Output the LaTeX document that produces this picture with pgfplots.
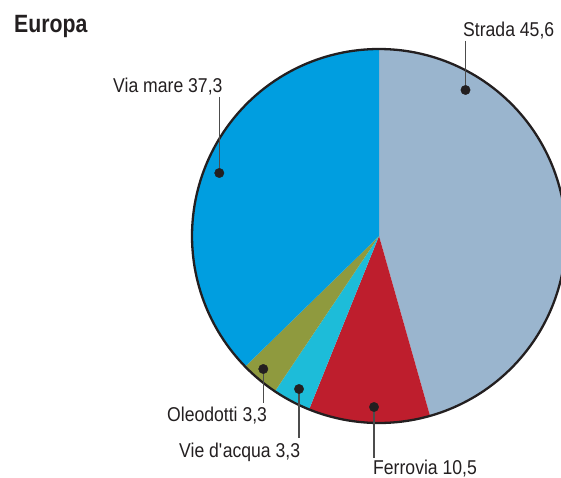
\documentclass[border=0pt]{standalone}
\usepackage{pgfplots}
\pgfplotsset{compat=1.18}
\usepackage{fontspec}
\setmainfont{Liberation Sans}[FakeStretch=0.88]
\newfontfamily\titlefont{Liberation Sans}[FakeStretch=0.85]
\definecolor{cStrada}{HTML}{9AB5CE}
\definecolor{cFerrovia}{HTML}{BE1E2D}
\definecolor{cVie}{HTML}{1DBCD9}
\definecolor{cOleo}{HTML}{8F9A3E}
\definecolor{cMare}{HTML}{009EE0}
\definecolor{cLine}{HTML}{231F20}
% shares (percent)
\def\vStrada{45.6}
\def\vFerrovia{10.5}
\def\vVie{3.3}
\def\vOleo{3.3}
\def\vMare{37.3}
\pgfmathsetmacro\aA{90}
\pgfmathsetmacro\aB{\aA-3.6*\vStrada}
\pgfmathsetmacro\aC{\aB-3.6*\vFerrovia}
\pgfmathsetmacro\aD{\aC-3.6*\vVie}
\pgfmathsetmacro\aE{\aD-3.6*\vOleo}
\pgfmathsetmacro\aF{\aE-3.6*\vMare}
\def\cx{379}
\def\cy{236}
\def\R{187}
\begin{document}
\begin{tikzpicture}[x=1pt,y=1pt]
\useasboundingbox (0,0) rectangle (561,478);
\begin{axis}[
  at={(0,0)}, anchor=south west,
  width=561pt, height=478pt, scale only axis,
  xmin=0, xmax=561, ymin=0, ymax=478, y dir=reverse,
  hide axis, clip=true,
]
\addplot[fill=cStrada, draw=none, domain=\aB:\aA, samples=120]
  ({\cx+\R*cos(x)},{\cy-\R*sin(x)}) -- (axis cs:\cx,\cy) -- cycle;
\addplot[fill=cFerrovia, draw=none, domain=\aC:\aB, samples=40]
  ({\cx+\R*cos(x)},{\cy-\R*sin(x)}) -- (axis cs:\cx,\cy) -- cycle;
\addplot[fill=cVie, draw=none, domain=\aD:\aC, samples=20]
  ({\cx+\R*cos(x)},{\cy-\R*sin(x)}) -- (axis cs:\cx,\cy) -- cycle;
\addplot[fill=cOleo, draw=none, domain=\aE:\aD, samples=20]
  ({\cx+\R*cos(x)},{\cy-\R*sin(x)}) -- (axis cs:\cx,\cy) -- cycle;
\addplot[fill=cMare, draw=none, domain=\aF:\aE, samples=100]
  ({\cx+\R*cos(x)},{\cy-\R*sin(x)}) -- (axis cs:\cx,\cy) -- cycle;
\addplot[draw=cLine, line width=2.3pt, domain=0:360, samples=240]
  ({\cx+\R*cos(x)},{\cy-\R*sin(x)});
% leader lines
\addplot[draw=black!70, line width=1.3pt] coordinates {(465.5,41) (465.5,90)};
\addplot[draw=black!70, line width=1.3pt] coordinates {(219.3,97) (219.3,173)};
\addplot[draw=black!70, line width=1.3pt] coordinates {(263.3,369) (263.3,403)};
\addplot[draw=black!70, line width=1.3pt] coordinates {(299,389) (299,438)};
\addplot[draw=black!70, line width=1.3pt] coordinates {(374,407) (374,458)};
\addplot[only marks, mark=*, mark size=4.7pt, mark options={fill=cLine, draw=cLine}]
  coordinates {(465.5,90) (219.3,173) (263.3,369) (299,389) (374,407)};
\end{axis}
\node[anchor=base west, inner sep=0pt, font=\titlefont\bfseries\fontsize{25}{30}\selectfont, text=cLine] at (14,478-33) {Europa};
\node[anchor=base west, inner sep=0pt, font=\fontsize{20}{24}\selectfont, text=cLine] at (463,478-36.7) {Strada 45,6};
\node[anchor=base west, inner sep=0pt, font=\fontsize{20}{24}\selectfont, text=cLine] at (113,478-93) {Via mare 37,3};
\node[anchor=base west, inner sep=0pt, font=\fontsize{20}{24}\selectfont, text=cLine] at (167,478-422) {Oleodotti 3,3};
\node[anchor=base west, inner sep=0pt, font=\fontsize{20}{24}\selectfont, text=cLine] at (179,478-458) {Vie d\textquotesingle acqua 3,3};
\node[anchor=base west, inner sep=0pt, font=\fontsize{20}{24}\selectfont, text=cLine] at (373,478-475) {Ferrovia 10,5};
\end{tikzpicture}
\end{document}
